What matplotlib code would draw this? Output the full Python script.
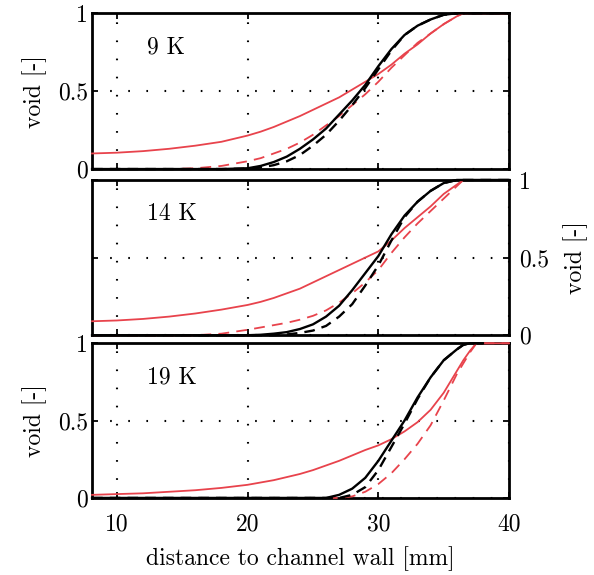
import numpy as np
import matplotlib
matplotlib.use("Agg")
import matplotlib.pyplot as plt

plt.rcParams["font.family"] = ["cmr10", "DejaVu Serif"]
plt.rcParams["mathtext.fontset"] = "cm"
plt.rcParams["axes.unicode_minus"] = False
plt.rcParams["axes.formatter.use_mathtext"] = True

# distance to channel wall [mm], shared sampling for all curves
x_mm = [8.1, 10, 12, 14, 16, 18, 20, 21, 22, 23, 24, 25, 26, 27, 28, 29,
        30, 31, 32, 33, 34, 35, 36, 36.5, 37, 37.5, 38, 40]

# 9 K
k9_black_solid = [0, 0, 0, 0, 0, 0, 0.005, 0.02, 0.045, 0.08, 0.13, 0.19, 0.26,
                  0.35, 0.44, 0.54, 0.66, 0.77, 0.86, 0.92, 0.96, 0.99, 1, 1,
                  1, 1, 1, 1]
k9_black_dash = [0, 0, 0, 0, 0, 0, 0.003, 0.01, 0.025, 0.05, 0.09, 0.15, 0.22,
                 0.31, 0.41, 0.52, 0.64, 0.76, 0.86, 0.92, 0.96, 0.99, 1, 1,
                 1, 1, 1, 1]
k9_red_solid = [0.10, 0.105, 0.115, 0.13, 0.15, 0.175, 0.215, 0.24, 0.27,
                0.305, 0.34, 0.38, 0.42, 0.46, 0.51, 0.56, 0.61, 0.67, 0.74,
                0.80, 0.87, 0.93, 0.98, 1, 1, 1, 1, 1]
k9_red_dash = [0, 0, 0, 0, 0.005, 0.02, 0.05, 0.07, 0.10, 0.13, 0.17, 0.22,
               0.28, 0.34, 0.41, 0.48, 0.56, 0.65, 0.73, 0.81, 0.87, 0.93,
               0.98, 1, 1, 1, 1, 1]

# 14 K
k14_black_solid = [0, 0, 0, 0, 0, 0, 0, 0.003, 0.01, 0.02, 0.04, 0.07, 0.12,
                   0.19, 0.29, 0.40, 0.51, 0.65, 0.77, 0.86, 0.93, 0.98, 1, 1,
                   1, 1, 1, 1]
k14_black_dash = [0, 0, 0, 0, 0, 0, 0, 0, 0, 0.005, 0.015, 0.03, 0.06, 0.12,
                  0.20, 0.32, 0.45, 0.61, 0.76, 0.86, 0.93, 0.98, 1, 1, 1, 1,
                  1, 1]
k14_red_solid = [0.09, 0.095, 0.105, 0.12, 0.14, 0.165, 0.195, 0.215, 0.24,
                 0.27, 0.30, 0.34, 0.38, 0.42, 0.46, 0.50, 0.54, 0.61, 0.69,
                 0.76, 0.83, 0.91, 0.97, 1, 1, 1, 1, 1]
k14_red_dash = [0, 0, 0, 0, 0, 0.01, 0.035, 0.05, 0.065, 0.08, 0.10, 0.125,
                0.16, 0.21, 0.27, 0.34, 0.42, 0.53, 0.63, 0.72, 0.80, 0.88,
                0.96, 1, 1, 1, 1, 1]

# 19 K
k19_black_solid = [0, 0, 0, 0, 0, 0, 0, 0, 0, 0, 0, 0, 0, 0.02, 0.06, 0.13,
                   0.24, 0.37, 0.50, 0.65, 0.78, 0.89, 0.96, 0.99, 1, 1, 1,
                   np.nan]
k19_black_dash = [0, 0, 0, 0, 0, 0, 0, 0, 0, 0, 0, 0, 0, 0, 0.02, 0.07, 0.18,
                  0.33, 0.48, 0.64, 0.78, 0.89, 0.96, 0.99, 1, 1, 1, np.nan]
k19_red_solid = [0.02, 0.025, 0.03, 0.04, 0.05, 0.065, 0.085, 0.10, 0.115,
                 0.135, 0.155, 0.18, 0.21, 0.24, 0.275, 0.31, 0.34, 0.38, 0.43,
                 0.49, 0.57, 0.68, 0.82, 0.89, 0.95, 1, 1, 1]
k19_red_dash = [0, 0, 0, 0, 0, 0, 0, 0, 0, 0, 0, 0, 0, 0, 0.01, 0.04, 0.09,
                0.16, 0.25, 0.35, 0.47, 0.63, 0.80, 0.87, 0.94, 1, 1, 1]

panel_labels = ["9 K", "14 K", "19 K"]
x_ticks = [10, 20, 30, 40]
y_ticks = [0, 0.5, 1]
y_tick_labels = ["0", "0.5", "1"]

panels = [
    (k9_black_solid, k9_black_dash, k9_red_solid, k9_red_dash),
    (k14_black_solid, k14_black_dash, k14_red_solid, k14_red_dash),
    (k19_black_solid, k19_black_dash, k19_red_solid, k19_red_dash),
]

RED = "#e8434c"
FS = 17

fig = plt.figure(figsize=(5.94, 5.75), dpi=100)
boxes = [(0.977, 0.706), (0.687, 0.417), (0.403, 0.134)]
left, right = 0.155, 0.857

for i, ((top, bot), curves, label) in enumerate(zip(boxes, panels, panel_labels)):
    ax = fig.add_axes([left, bot, right - left, top - bot])
    bs, bd, rs, rd = curves
    ax.plot(x_mm, rs, color=RED, lw=1.3, clip_on=False, zorder=3)
    ax.plot(x_mm, rd, color=RED, lw=1.3, ls=(0, (6, 4)), clip_on=False, zorder=3)
    ax.plot(x_mm, bs, color="black", lw=1.7, clip_on=False, zorder=4)
    ax.plot(x_mm, bd, color="black", lw=1.7, ls=(0, (4.5, 3)), clip_on=False, zorder=4)

    ax.set_xlim(8.1, 40)
    ax.set_ylim(0, 1)
    ax.set_xticks(x_ticks)
    ax.set_yticks(y_ticks)
    ax.grid(True, color="black", lw=1.5, ls=(0, (0.8, 7.9)))
    ax.tick_params(direction="in", length=4, width=1.3, top=True, right=True,
                   labelsize=FS)
    ax.tick_params(axis="x", pad=11)
    for sp in ax.spines.values():
        sp.set_linewidth(2.0)

    ax.text(12.3, 0.78, label, fontsize=FS, ha="left", va="center")

    if i == 1:
        ax.yaxis.set_label_position("right")
        ax.tick_params(axis="y", labelleft=False, labelright=True, pad=7)
        ax.set_yticklabels(y_tick_labels)
        ax.set_ylabel("void [-]", fontsize=FS, labelpad=10)
    else:
        ax.tick_params(axis="y", pad=3)
        ax.set_yticklabels(y_tick_labels)
        ax.set_ylabel("void [-]", fontsize=FS, labelpad=8)
    if i == 2:
        ax.set_xticklabels([str(t) for t in x_ticks])
        ax.set_xlabel("distance to channel wall [mm]", fontsize=FS, labelpad=8)
    else:
        ax.tick_params(labelbottom=False)

fig.savefig("out.png", dpi=100)
